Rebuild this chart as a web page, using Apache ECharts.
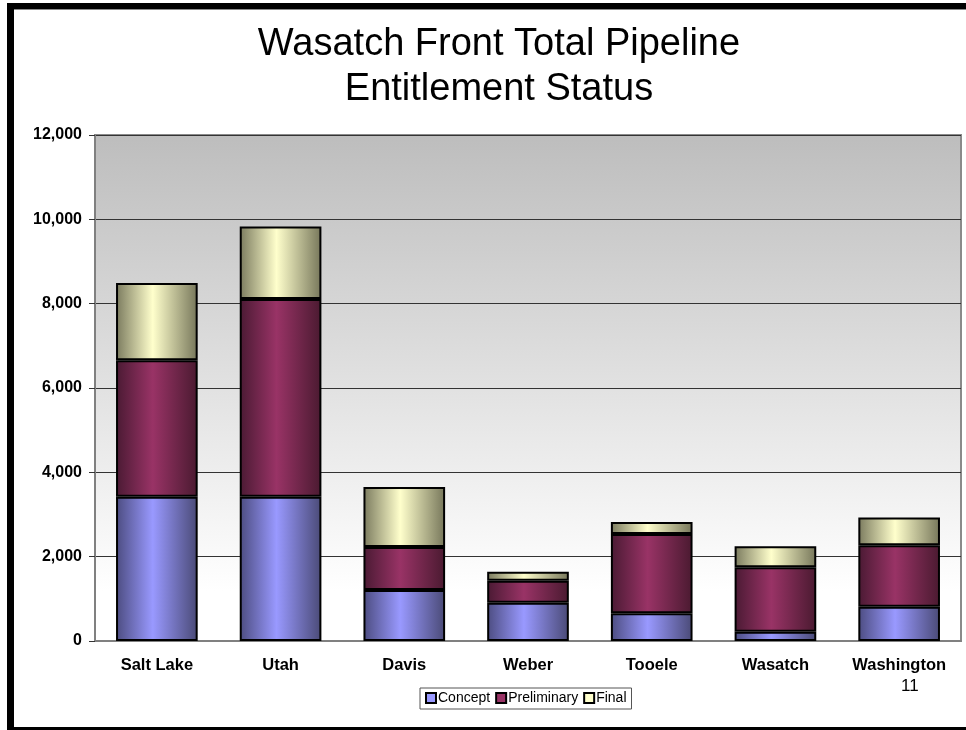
<!DOCTYPE html>
<html>
<head>
<meta charset="utf-8">
<script src="https://cdn.jsdelivr.net/npm/echarts@6/dist/echarts.min.js"></script>
<style>
  html, body { margin: 0; padding: 0; background: #fff; }
  #chart { width: 966px; height: 730px; }
</style>
</head>
<body>
<div id="chart"></div>
<script>
const categories = ['Salt Lake', 'Utah', 'Davis', 'Weber', 'Tooele', 'Wasatch', 'Washington'];
const concept = [3420, 3420, 1210, 910, 660, 220, 810];
const preliminary = [3240, 4690, 1020, 520, 1880, 1530, 1460];
const final = [1830, 1720, 1420, 210, 280, 500, 660];
const yTicks = [0, 2000, 4000, 6000, 8000, 10000, 12000];

const font = 'Liberation Sans, Arial, sans-serif';

// bar faces: dark edges, light centre
function shade(edgeL, mid, edgeR) {
  return new echarts.graphic.LinearGradient(0, 0, 1, 0, [
    { offset: 0, color: edgeL },
    { offset: 0.45, color: mid },
    { offset: 1, color: edgeR },
  ]);
}

const colors = {
  Concept: ['#4c4c80', '#9999ff', '#4a4a76'],
  Preliminary: ['#4a1a33', '#993366', '#4a1a30'],
  Final: ['#7a7a5e', '#ffffcc', '#76765a'],
};
const flat = { Concept: '#9999ff', Preliminary: '#993366', Final: '#ffffcc' };

function series(name, data) {
  return {
    name,
    type: 'bar',
    stack: 'total',
    data,
    barCategoryGap: '34%',
    itemStyle: {
      color: shade(...colors[name]),
      borderColor: '#000',
      borderWidth: 2,
    },
  };
}

const chart = echarts.init(document.getElementById('chart'), null, { renderer: 'canvas' });

chart.setOption({
  animation: false,
  title: {
    text: 'Wasatch Front Total Pipeline\nEntitlement Status',
    left: 494,
    textAlign: 'center',
    top: 17,
    textStyle: {
      fontFamily: font,
      fontSize: 38,
      fontWeight: 'normal',
      lineHeight: 45,
      color: '#000',
    },
  },
  grid: {
    left: 95,
    right: 5,
    top: 135,
    bottom: 89,
    show: true,
    borderColor: '#8a8a8a',
    borderWidth: 2,
    backgroundColor: new echarts.graphic.LinearGradient(0, 0, 0, 1, [
      { offset: 0, color: '#bdbdbd' },
      { offset: 0.9, color: '#ffffff' },
      { offset: 1, color: '#ffffff' },
    ]),
  },
  legend: {
    left: 420,
    top: 688,
    padding: [3, 5, 4, 5],
    itemGap: 5,
    itemWidth: 10,
    itemHeight: 10,
    borderColor: '#555',
    borderWidth: 1,
    backgroundColor: '#fff',
    textStyle: { fontFamily: font, fontSize: 14, color: '#000', padding: [0, 0, 0, -3] },
    data: ['Concept', 'Preliminary', 'Final'].map(n => ({
      name: n,
      icon: 'rect',
      itemStyle: { color: flat[n], borderColor: '#000', borderWidth: 2 },
    })),
  },
  xAxis: {
    type: 'category',
    data: categories,
    axisLine: { lineStyle: { color: '#808080', width: 2 } },
    axisTick: { length: 5, lineStyle: { color: '#808080' } },
    axisLabel: {
      margin: 16,
      fontFamily: font,
      fontSize: 16.5,
      fontWeight: 'bold',
      color: '#000',
    },
  },
  yAxis: {
    type: 'value',
    min: yTicks[0],
    max: yTicks[yTicks.length - 1],
    interval: yTicks[1] - yTicks[0],
    axisLine: { show: true, lineStyle: { color: '#808080', width: 2 } },
    axisTick: { show: true, length: 6, lineStyle: { color: '#333' } },
    splitLine: { lineStyle: { color: '#333', width: 1 } },
    axisLabel: {
      margin: 13,
      fontFamily: font,
      fontSize: 16,
      fontWeight: 'bold',
      color: '#000',
      formatter: v => v.toLocaleString('en-US'),
    },
  },
  series: [
    series('Concept', concept),
    series('Preliminary', preliminary),
    series('Final', final),
  ],
  graphic: [
    // slide frame
    { type: 'rect', shape: { x: 7, y: 3, width: 7, height: 727 }, style: { fill: '#000' } },
    { type: 'rect', shape: { x: 7, y: 3, width: 959, height: 6 }, style: { fill: '#000' } },
    { type: 'rect', shape: { x: 14, y: 9, width: 952, height: 1 }, style: { fill: '#888' } },
    { type: 'rect', shape: { x: 7, y: 727, width: 959, height: 3 }, style: { fill: '#000' } },
    {
      type: 'text',
      left: 901,
      top: 678,
      style: { text: '11', fontFamily: font, fontSize: 17, fill: '#000' },
    },
  ],
});
</script>
</body>
</html>
